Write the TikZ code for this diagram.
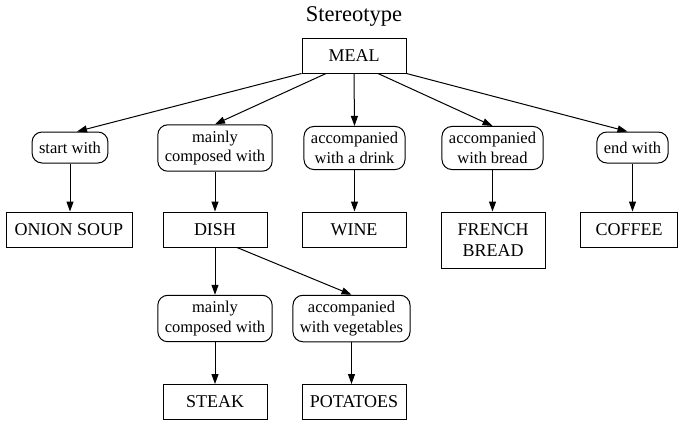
\documentclass[tikz,border=0pt]{standalone}
\usepackage{fontspec}
\setmainfont{Liberation Serif}
\usetikzlibrary{arrows.meta}

\begin{document}
\begin{tikzpicture}[x=1pt,y=-1pt,>={Triangle[length=10pt,width=7pt]},
  every node/.style={font=\fontsize{16.5}{19.5}\selectfont},
  concept/.style={draw,line width=1pt,minimum width=104pt,minimum height=35pt,align=center,inner xsep=6pt,font=\fontsize{18}{21}\selectfont},
  relation/.style={draw,line width=1pt,rounded corners=10pt,minimum height=31pt,align=center,inner xsep=7pt,inner ysep=6pt},
  link/.style={->,line width=1pt}]
\useasboundingbox (0,0) rectangle (679,421);
% top
\node[anchor=base,font=\fontsize{22.5}{25}\selectfont] (title) at (354,21) {Stereotype};
\node[concept] (meal) at (354,55.5) {MEAL};
% relations of the meal
\node[relation] (start) at (70,147.5) {start with};
\node[relation] (composed) at (215,148) {mainly\\composed with};
\node[relation] (drink) at (354.5,148) {accompanied\\with a drink};
\node[relation] (bread) at (492.5,148) {accompanied\\with bread};
\node[relation] (endw) at (632.5,147.5) {end with};
% components
\node[concept,minimum width=126pt] (soup) at (69,229.5) {ONION SOUP};
\node[concept] (dish) at (215,229.5) {DISH};
\node[concept] (wine) at (354,229.5) {WINE};
\node[concept,minimum height=56pt] (frbread) at (493,240) {FRENCH\\BREAD};
\node[concept,minimum width=97pt] (coffee) at (629,229.5) {COFFEE};
% relations of the dish
\node[relation] (composed2) at (215,318.5) {mainly\\composed with};
\node[relation] (veg) at (351.5,318.5) {accompanied\\with vegetables};
\node[concept] (steak) at (215,402) {STEAK};
\node[concept] (potatoes) at (354,402) {POTATOES};
% links
\draw[link] (meal.south west) -- ([xshift=7pt]start.north);
\draw[link] ([xshift=-28pt]meal.south) -- (composed.north);
\draw[link] (meal.south) -- (drink.north);
\draw[link] ([xshift=24pt]meal.south) -- (bread.north);
\draw[link] (meal.south east) -- ([xshift=-5pt]endw.north);
\draw[link] (start.south) -- (start.south |- soup.north);
\draw[link] (composed.south) -- (composed.south |- dish.north);
\draw[link] (drink.south) -- (drink.south |- wine.north);
\draw[link] (bread.south) -- (bread.south |- frbread.north);
\draw[link] (endw.south) -- (endw.south |- coffee.north);
\draw[link] (dish.south) -- (composed2.north);
\draw[link] ([xshift=22pt]dish.south) -- (veg.north);
\draw[link] (composed2.south) -- (steak.north);
\draw[link] (veg.south) -- (veg.south |- potatoes.north);
\end{tikzpicture}
\end{document}
